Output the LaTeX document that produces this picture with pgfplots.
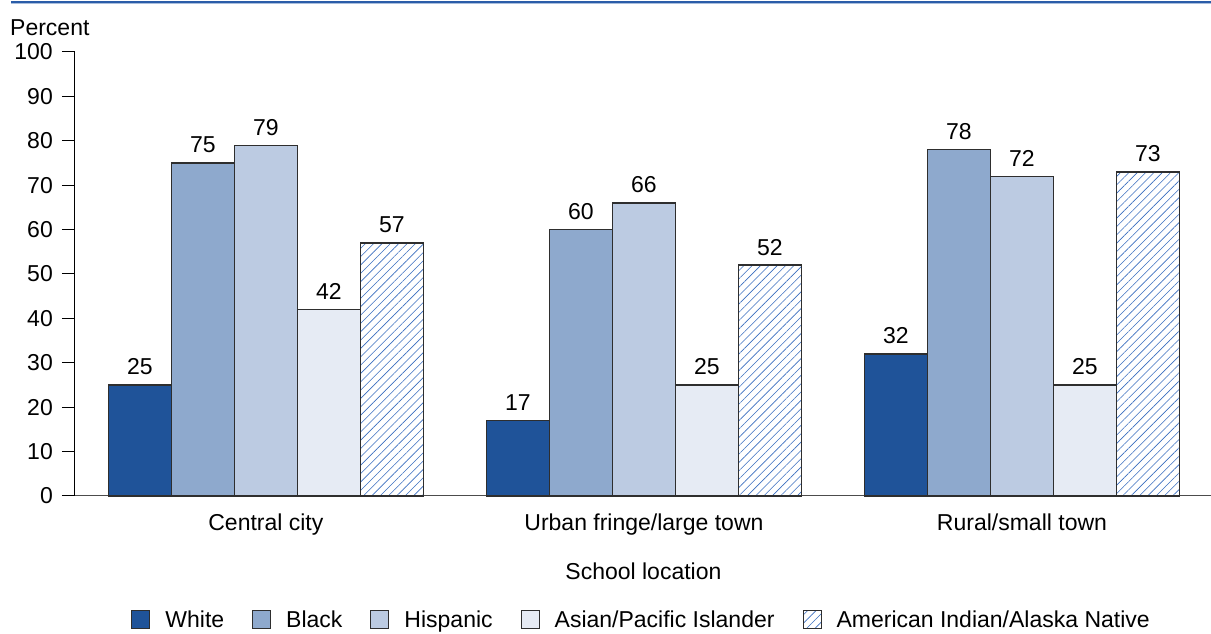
\documentclass[border=0pt]{standalone}
\usepackage{fontspec}
\setmainfont{Liberation Sans}
\usepackage{pgfplots}
\pgfplotsset{compat=1.18}
\usetikzlibrary{patterns.meta}
\definecolor{cWhite}{HTML}{1F5399}
\definecolor{cBlack}{HTML}{8EA9CD}
\definecolor{cHisp}{HTML}{BCCBE2}
\definecolor{cAsian}{HTML}{E6EBF4}
\definecolor{cHatch}{HTML}{3A6EC0}
\definecolor{edge}{HTML}{2E2E2E}
\definecolor{topblue}{HTML}{2A5CA8}
\definecolor{toplight}{HTML}{A9BEDD}
\begin{document}
\begin{tikzpicture}[font=\fontsize{23}{27}\selectfont]
\useasboundingbox (-75pt,-138pt) rectangle (1136pt,496pt);
\draw[line width=2.2pt, topblue] (-64pt,494pt) -- (1136pt,494pt);
\draw[line width=1.3pt, toplight] (-64pt,492.3pt) -- (1136pt,492.3pt);
\begin{axis}[
  at={(0pt,0pt)}, anchor=south west,
  scale only axis, width=1136pt, height=444pt,
  clip=false,
  xmin=-0.505, xmax=2.5, ymin=0, ymax=100,
  ybar=0pt, bar width=63pt,
  axis x line*=bottom, axis y line*=left,
  x axis line style={draw=black!70, line width=1pt},
  y axis line style={draw=black, line width=1pt},
  xtick={0,1,2},
  xticklabels={Central city, Urban fringe/large town, Rural/small town},
  x tick style={draw=none},
  xticklabel style={anchor=base, yshift=-21pt},
  ytick={0,10,...,100},
  y tick style={draw=black, line width=1pt},
  major tick length=13pt,
  tick align=outside,
  yticklabel style={anchor=east, inner sep=0pt, xshift=-9pt},
  /pgf/number format/assume math mode=true,
  xlabel={School location},
  xlabel style={at={(axis description cs:0.5004,0)}, anchor=base, yshift=-83pt},
  every axis plot/.append style={draw=edge, line width=1.4pt},
  nodes near coords,
  every node near coord/.append style={anchor=base, yshift=10pt, font=\fontsize{23}{27}\selectfont, text=black},
  legend columns=-1,
  legend style={draw=none, at={(0.5045,-0.279)}, anchor=center, fill=none,
    /tikz/every even column/.append style={column sep=13pt},
    font=\fontsize{23}{27}\selectfont},
  legend cell align=left,
  legend style={nodes={inner xsep=15pt}},
  legend image code/.code={\draw[#1, line width=1pt] (0pt,-9pt) rectangle (18pt,9pt);},
]
\addplot[fill=cWhite] coordinates {(0,25) (1,17) (2,32)};
\addplot[fill=cBlack] coordinates {(0,75) (1,60) (2,78)};
\addplot[fill=cHisp] coordinates {(0,79) (1,66) (2,72)};
\addplot[fill=cAsian] coordinates {(0,42) (1,25) (2,25)};
\addplot[fill=white, postaction={pattern={Lines[angle=45,distance=5.9pt,line width=0.6pt]}, pattern color=cHatch}] coordinates {(0,57) (1,52) (2,73)};
\legend{White, Black, Hispanic, Asian/Pacific Islander, American Indian/Alaska Native}
\node[anchor=base west, inner sep=0pt, xshift=-65pt, yshift=16pt] at (rel axis cs:0,1) {Percent};
\end{axis}
\end{tikzpicture}
\end{document}
